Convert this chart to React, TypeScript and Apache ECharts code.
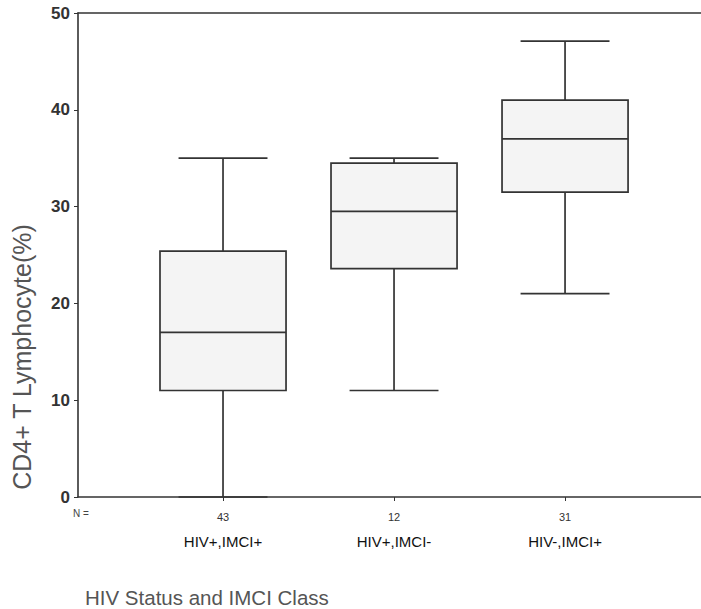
import React, { useEffect, useRef } from "react";
import * as echarts from "echarts";

const categories = ["HIV+,IMCI+", "HIV+,IMCI-", "HIV-,IMCI+"];
const counts = ["43", "12", "31"];
const positions = [1, 2, 3];
// five-number summaries per group
const lowWhisker = [0, 11, 21];
const q1Values = [11, 23.6, 31.5];
const medianValues = [17, 29.5, 37];
const q3Values = [25.4, 34.5, 41];
const highWhisker = [35, 35, 47.1];

const X_MIN = 0.152;
const X_MAX = 3.795;
const BOX_W = 0.737;
const CAP_W = 0.52;
const LINE = "#333333";

export default function App() {
  const ref = useRef<HTMLDivElement>(null);
  useEffect(() => {
    const chart = echarts.init(ref.current!, null, { renderer: "svg" });
    const data = positions.map((p, i) => [
      p,
      lowWhisker[i],
      q1Values[i],
      medianValues[i],
      q3Values[i],
      highWhisker[i],
    ]);
    const font = "'Liberation Sans', Arial, sans-serif";
    chart.setOption({
      animation: false,
      backgroundColor: "#ffffff",
      grid: { left: 78, right: 0, top: 13, bottom: 112 },
      xAxis: [
        {
          type: "value",
          min: X_MIN,
          max: X_MAX,
          splitLine: { show: false },
          axisLine: { show: true, lineStyle: { color: LINE, width: 1.6 } },
          axisTick: {
            show: true,
            length: 4,
            customValues: positions,
            lineStyle: { color: LINE },
          },
          axisLabel: {
            customValues: positions,
            margin: 9,
            formatter: (v: number) => {
              const i = positions.indexOf(Math.round(v));
              return i < 0 ? "" : `{n|${counts[i]}}\n{c|${categories[i]}}`;
            },
            rich: {
              n: { fontSize: 11, color: "#333", fontFamily: font, lineHeight: 22 },
              c: { fontSize: 15, color: "#111", fontFamily: font, lineHeight: 26 },
            },
          },
        },
        {
          type: "value",
          position: "top",
          min: X_MIN,
          max: X_MAX,
          splitLine: { show: false },
          axisLine: { show: true, lineStyle: { color: LINE, width: 1.6 } },
          axisTick: { show: false },
          axisLabel: { show: false },
        },
      ],
      yAxis: {
        type: "value",
        min: 0,
        max: 50,
        interval: 10,
        splitLine: { show: false },
        axisLine: { show: true, lineStyle: { color: LINE, width: 1.6 } },
        axisTick: { show: true, length: 4, lineStyle: { color: LINE } },
        axisLabel: {
          margin: 8,
          fontSize: 17,
          fontWeight: "bold",
          color: "#333",
          fontFamily: font,
        },
      },
      graphic: [
        {
          type: "text",
          x: 22,
          y: 357,
          rotation: Math.PI / 2,
          style: {
            text: "CD4+ T Lymphocyte(%)",
            fontSize: 25,
            fontFamily: font,
            fill: "#555",
            textAlign: "center",
            textVerticalAlign: "middle",
          },
        },
        {
          type: "text",
          x: 81,
          y: 513,
          style: {
            text: "N =",
            fontSize: 10,
            fontFamily: font,
            fill: "#444",
            textAlign: "center",
            textVerticalAlign: "middle",
          },
        },
        {
          type: "text",
          x: 85,
          y: 597,
          style: {
            text: "HIV Status and IMCI Class",
            fontSize: 20.5,
            fontFamily: font,
            fill: "#555",
            textAlign: "left",
            textVerticalAlign: "middle",
          },
        },
      ],
      series: [
        {
          type: "custom",
          xAxisIndex: 0,
          data,
          encode: { x: 0, y: [1, 2, 3, 4, 5] },
          renderItem: (params: any, api: any) => {
            const x = api.value(0);
            const lo = api.coord([x, api.value(1)]);
            const b1 = api.coord([x, api.value(2)]);
            const md = api.coord([x, api.value(3)]);
            const b3 = api.coord([x, api.value(4)]);
            const hi = api.coord([x, api.value(5)]);
            const bw = api.size([BOX_W, 0])[0];
            const cw = api.size([CAP_W, 0])[0];
            const cx = lo[0];
            const ls = { stroke: LINE, lineWidth: 1.7 };
            return {
              type: "group",
              children: [
                { type: "line", shape: { x1: cx, y1: hi[1], x2: cx, y2: b3[1] }, style: ls },
                { type: "line", shape: { x1: cx, y1: b1[1], x2: cx, y2: lo[1] }, style: ls },
                { type: "line", shape: { x1: cx - cw / 2, y1: hi[1], x2: cx + cw / 2, y2: hi[1] }, style: ls },
                { type: "line", shape: { x1: cx - cw / 2, y1: lo[1], x2: cx + cw / 2, y2: lo[1] }, style: ls },
                {
                  type: "rect",
                  shape: { x: cx - bw / 2, y: b3[1], width: bw, height: b1[1] - b3[1] },
                  style: { fill: "#f4f4f4", stroke: LINE, lineWidth: 1.7 },
                },
                { type: "line", shape: { x1: cx - bw / 2, y1: md[1], x2: cx + bw / 2, y2: md[1] }, style: ls },
              ],
            };
          },
        },
      ],
    });
    return () => chart.dispose();
  }, []);
  return (
    <div
      ref={ref}
      style={{ position: "absolute", left: 0, top: 0, width: 701, height: 609 }}
    />
  );
}
